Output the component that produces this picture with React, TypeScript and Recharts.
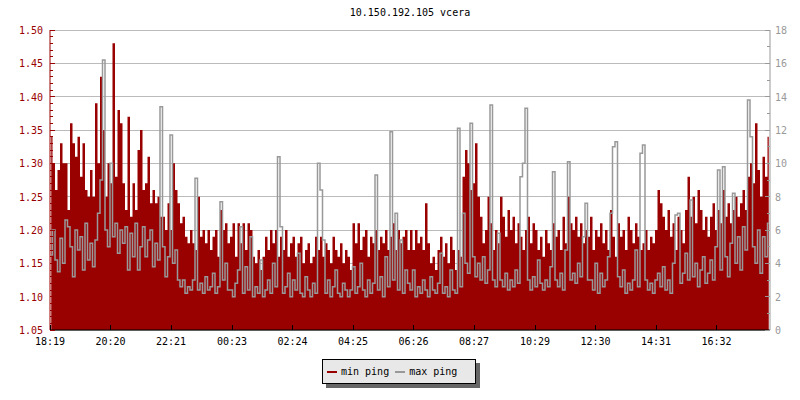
import { ComposedChart, Area, Line, XAxis, YAxis, CartesianGrid } from "recharts";

const FONT = '"DejaVu Sans Mono", monospace';
const RED = "#990000";
const GREY = "#999999";

const TITLE = "10.150.192.105 vcera";
const START_TIME = "18:19";
const STEP_MINUTES = 5;
const TIME_TICKS = ["18:19", "20:20", "22:21", "00:23", "02:24", "04:25", "06:26", "08:27", "10:29", "12:30", "14:31", "16:32"];

// min ping (ms), one sample per 5 minutes, left axis
const MIN_PING = [
  1.34, 1.30, 1.26, 1.29, 1.33, 1.30, 1.30, 1.23, 1.36, 1.33, 1.31, 1.34,
  1.28, 1.33, 1.26, 1.25, 1.29, 1.25, 1.39, 1.30, 1.43, 1.35, 1.25, 1.30,
  1.27, 1.48, 1.28, 1.38, 1.36, 1.27, 1.23, 1.37, 1.22, 1.27, 1.23, 1.32,
  1.35, 1.26, 1.27, 1.31, 1.24, 1.26, 1.24, 1.25, 1.22, 1.22, 1.20, 1.24,
  1.20, 1.30, 1.26, 1.24, 1.21, 1.22, 1.19, 1.18, 1.20, 1.18, 1.17, 1.25,
  1.19, 1.20, 1.18, 1.20, 1.17, 1.19, 1.20, 1.16, 1.23, 1.20, 1.21, 1.18,
  1.19, 1.21, 1.16, 1.21, 1.18, 1.21, 1.17, 1.21, 1.20, 1.16, 1.15, 1.17,
  1.14, 1.16, 1.19, 1.17, 1.20, 1.18, 1.20, 1.16, 1.19, 1.17, 1.20, 1.16,
  1.18, 1.19, 1.16, 1.18, 1.19, 1.15, 1.17, 1.18, 1.15, 1.16, 1.19, 1.17,
  1.19, 1.16, 1.18, 1.17, 1.15, 1.19, 1.17, 1.16, 1.18, 1.15, 1.17, 1.16,
  1.14, 1.21, 1.18, 1.21, 1.17, 1.19, 1.20, 1.16, 1.19, 1.18, 1.20, 1.17,
  1.19, 1.18, 1.20, 1.17, 1.19, 1.21, 1.17, 1.20, 1.18, 1.19, 1.20, 1.17,
  1.20, 1.17, 1.20, 1.18, 1.19, 1.17, 1.24, 1.18, 1.15, 1.16, 1.14, 1.17,
  1.19, 1.16, 1.18, 1.15, 1.19, 1.17, 1.14, 1.17, 1.16, 1.28, 1.32, 1.30,
  1.26, 1.27, 1.33, 1.25, 1.22, 1.18, 1.20, 1.25, 1.21, 1.17, 1.20, 1.18,
  1.25, 1.22, 1.19, 1.23, 1.20, 1.22, 1.18, 1.21, 1.19, 1.17, 1.20, 1.22,
  1.18, 1.21, 1.20, 1.17, 1.19, 1.16, 1.20, 1.18, 1.17, 1.21, 1.19, 1.20,
  1.17, 1.22, 1.18, 1.25, 1.21, 1.20, 1.22, 1.19, 1.21, 1.18, 1.20, 1.19,
  1.22, 1.17, 1.20, 1.19, 1.21, 1.18, 1.20, 1.17, 1.23, 1.19, 1.16, 1.21,
  1.19, 1.20, 1.17, 1.22, 1.20, 1.18, 1.21, 1.19, 1.17, 1.18, 1.20, 1.17,
  1.19, 1.18, 1.20, 1.26, 1.24, 1.22, 1.20, 1.23, 1.19, 1.21, 1.17, 1.22,
  1.20, 1.18, 1.23, 1.28, 1.22, 1.25, 1.21, 1.26, 1.23, 1.20, 1.22, 1.19,
  1.22, 1.24, 1.20, 1.23, 1.21, 1.26, 1.22, 1.24, 1.21, 1.23, 1.25, 1.22,
  1.24, 1.26, 1.23, 1.28, 1.30, 1.27, 1.36, 1.29, 1.25, 1.31, 1.28, 1.34,
];

// max ping (ms), right axis
const MAX_PING = [
  4.5, 6.0, 4.2, 3.5, 5.5, 4.0, 6.6, 6.2, 5.0, 3.2, 6.0, 4.8,
  5.6, 3.6, 6.4, 4.2, 5.2, 3.8, 5.4, 7.0, 9.0, 16.2, 6.0, 5.0,
  10.0, 5.6, 6.4, 4.6, 6.0, 5.2, 6.2, 3.6, 5.8, 4.4, 6.4, 3.6,
  5.0, 6.2, 4.4, 5.4, 6.0, 3.8, 5.2, 4.2, 13.4, 5.0, 3.2, 4.4,
  11.7, 4.0, 4.8, 3.0, 2.6, 3.0, 2.2, 2.6, 2.4, 3.0, 9.1, 2.4,
  2.8, 2.2, 3.2, 2.4, 2.6, 3.4, 2.2, 2.6, 7.7, 3.0, 4.0, 2.4,
  2.4, 2.0, 2.8, 3.6, 6.2, 2.2, 3.8, 2.4, 5.6, 2.0, 2.6, 2.2,
  4.2, 2.0, 2.4, 3.0, 2.2, 4.0, 2.6, 10.4, 6.2, 2.2, 2.6, 3.4,
  2.0, 3.0, 2.4, 4.6, 2.2, 2.0, 3.2, 2.4, 2.0, 2.8, 2.2, 10.0,
  8.4, 5.4, 2.2, 3.0, 2.0, 2.6, 3.6, 2.2, 2.0, 2.8, 2.4, 2.0,
  2.4, 3.8, 2.2, 2.6, 4.0, 2.4, 2.0, 3.0, 2.2, 2.8, 9.3, 2.4,
  3.2, 2.0, 4.4, 2.6, 11.9, 3.0, 7.0, 2.4, 5.4, 2.2, 3.6, 2.8,
  2.4, 3.6, 2.0, 2.6, 2.2, 3.0, 2.4, 2.0, 3.2, 2.4, 2.2, 2.8,
  4.6, 2.2, 2.6, 2.0, 3.6, 2.4, 2.2, 12.1, 2.6, 7.0, 4.0, 3.4,
  12.4, 4.4, 3.2, 4.0, 3.0, 4.4, 2.8, 3.6, 13.5, 3.0, 2.6, 5.8,
  3.0, 2.6, 3.4, 2.4, 3.0, 2.6, 3.6, 2.8, 9.2, 10.0, 13.3, 3.0,
  2.4, 3.2, 2.6, 4.2, 2.8, 2.4, 3.0, 2.6, 3.8, 9.5, 3.0, 2.6,
  3.4, 2.4, 4.8, 10.1, 3.0, 3.4, 2.8, 4.0, 3.2, 5.6, 7.6, 3.0,
  3.0, 2.4, 4.0, 2.2, 3.4, 2.6, 3.0, 4.4, 7.0, 11.0, 11.3, 3.2,
  2.6, 3.6, 2.2, 2.8, 2.4, 3.0, 4.8, 2.6, 10.6, 11.1, 3.0, 2.4,
  2.8, 2.2, 3.0, 3.4, 2.6, 3.8, 2.4, 3.0, 2.2, 4.0, 6.9, 7.0,
  2.8, 3.4, 4.6, 3.0, 7.8, 3.2, 4.0, 2.6, 3.6, 4.4, 2.8, 3.4,
  4.2, 3.0, 5.0, 9.6, 3.6, 9.8, 4.4, 3.2, 5.2, 8.2, 4.0, 5.6,
  3.6, 6.2, 4.8, 13.8, 11.6, 5.0, 4.0, 6.0, 3.4, 5.6, 4.4, 6.4,
];

const LEFT_TICKS = Array.from({ length: 46 }, (_, i) => (105 + i) / 100);
const LEFT_MAJOR = LEFT_TICKS.filter((v) => Math.round(v * 100) % 5 === 0);
const RIGHT_TICKS = Array.from({ length: 19 }, (_, i) => i);

const SERIES = [
  { key: "min", name: "min ping", color: RED },
  { key: "max", name: "max ping", color: GREY },
];

const toMinutes = (label: string) => {
  const [h, m] = label.split(":").map(Number);
  const [sh, sm] = START_TIME.split(":").map(Number);
  return (h * 60 + m - (sh * 60 + sm) + 1440) % 1440;
};
const X_TICKS = TIME_TICKS.map(toMinutes);

const data = MIN_PING.map((v, i) => ({
  t: i * STEP_MINUTES + STEP_MINUTES / 2,
  min: v,
  max: MAX_PING[i],
}));

function LeftTick({ x, y, payload }: any) {
  const major = Math.round(payload.value * 100) % 5 === 0;
  return (
    <g>
      <line x1={x} x2={x + (major ? 5 : 3)} y1={y} y2={y} stroke={RED} shapeRendering="crispEdges" />
      {major && (
        <text x={x - 7} y={y} dy={4} textAnchor="end" fill={RED} fontSize={10} fontFamily={FONT}>
          {payload.value.toFixed(2)}
        </text>
      )}
    </g>
  );
}

function RightTick({ x, y, payload }: any) {
  const major = payload.value % 2 === 0;
  return (
    <g>
      <line x1={x} x2={x - (major ? 5 : 3)} y1={y} y2={y} stroke={GREY} shapeRendering="crispEdges" />
      {major && (
        <text x={x + 5} y={y} dy={4} textAnchor="start" fill={GREY} fontSize={10} fontFamily={FONT}>
          {payload.value}
        </text>
      )}
    </g>
  );
}

function TimeTick({ x, y, payload }: any) {
  const label = TIME_TICKS[X_TICKS.indexOf(payload.value)];
  return (
    <g>
      <line x1={x} x2={x} y1={y} y2={y - 5} stroke="#000" shapeRendering="crispEdges" />
      <text x={x} y={y} dy={15} textAnchor="middle" fill="#000" fontSize={10} fontFamily={FONT}>
        {label}
      </text>
    </g>
  );
}

export default function App() {
  return (
    <div
      style={{
        position: "absolute",
        left: 0,
        top: 0,
        width: 800,
        height: 400,
        background: "#fff",
        fontFamily: FONT,
      }}
    >
      <div
        style={{
          position: "absolute",
          left: 50,
          top: 7,
          width: 720,
          textAlign: "center",
          fontSize: 10,
          lineHeight: "12px",
          color: "#000",
        }}
      >
        {TITLE}
      </div>

      <ComposedChart width={800} height={400} data={data} margin={{ top: 30, right: 0, left: 0, bottom: 40 }}>
        <CartesianGrid
          yAxisId="left"
          vertical={false}
          horizontalValues={LEFT_MAJOR}
          stroke="#bbbbbb"
          shapeRendering="crispEdges"
        />
        <XAxis
          type="number"
          dataKey="t"
          domain={[0, 1440]}
          ticks={X_TICKS}
          interval={0}
          tick={<TimeTick />}
          tickSize={0}
          tickMargin={0}
          tickLine={false}
          height={30}
          axisLine={{ stroke: "#000" }}
        />
        <YAxis
          yAxisId="left"
          orientation="left"
          type="number"
          domain={[1.05, 1.5]}
          ticks={LEFT_TICKS}
          interval={0}
          tick={<LeftTick />}
          tickSize={0}
          tickMargin={0}
          tickLine={false}
          width={50}
          axisLine={{ stroke: RED }}
        />
        <YAxis
          yAxisId="right"
          orientation="right"
          type="number"
          domain={[0, 18]}
          ticks={RIGHT_TICKS}
          interval={0}
          tick={<RightTick />}
          tickSize={0}
          tickMargin={0}
          tickLine={false}
          width={30}
          axisLine={{ stroke: GREY }}
        />
        <Area
          yAxisId="left"
          dataKey="min"
          type="step"
          fill={RED}
          fillOpacity={1}
          stroke="none"
          isAnimationActive={false}
        />
        <Line
          yAxisId="right"
          dataKey="max"
          type="step"
          stroke={GREY}
          strokeWidth={1.5}
          dot={false}
          activeDot={false}
          isAnimationActive={false}
        />
      </ComposedChart>

      {/* Legend */}
      <div
        style={{
          position: "absolute",
          left: 322,
          top: 359,
          width: 154,
          height: 25,
          boxSizing: "border-box",
          border: "1px solid #000",
          background: "#e8e8e8",
          boxShadow: "4px 4px 0 #666666",
          display: "flex",
          alignItems: "center",
          paddingLeft: 4,
          fontSize: 10,
          color: "#000",
        }}
      >
        {SERIES.map((s, i) => (
          <div key={s.key} style={{ display: "flex", alignItems: "center", marginLeft: i === 0 ? 0 : 6 }}>
            <span style={{ display: "inline-block", width: 10, height: 2, background: s.color, marginRight: 4 }} />
            <span>{s.name}</span>
          </div>
        ))}
      </div>
    </div>
  );
}
